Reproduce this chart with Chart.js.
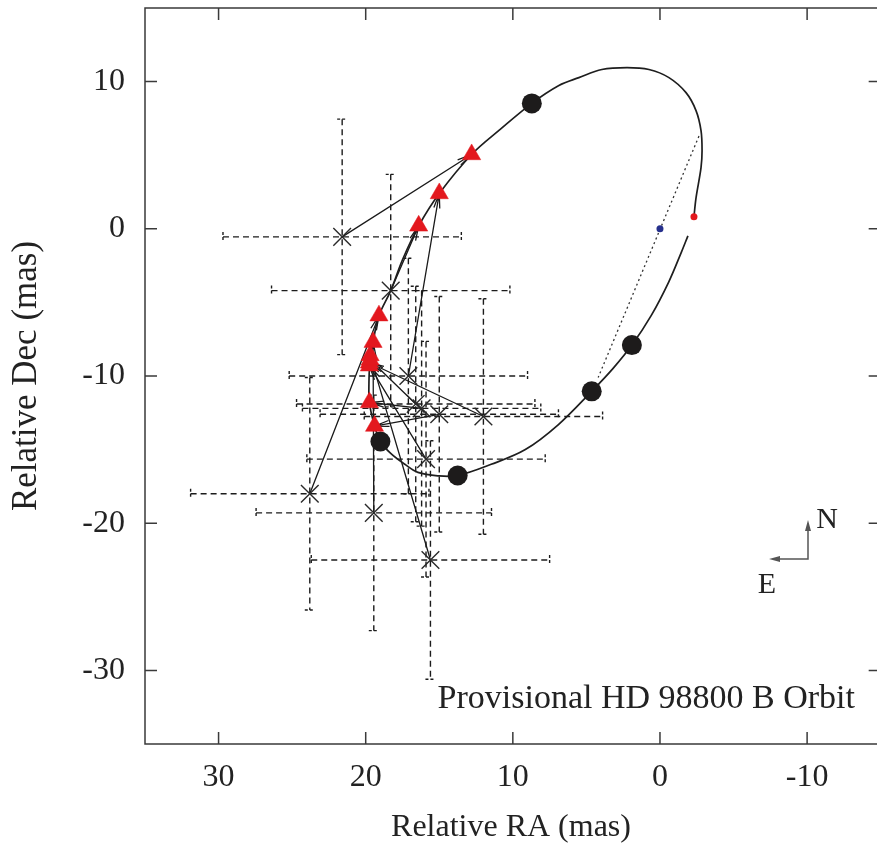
<!DOCTYPE html>
<html>
<head>
<meta charset="utf-8">
<script src="https://cdn.jsdelivr.net/npm/chart.js@4.4.1/dist/chart.umd.min.js"></script>
<style>
  html, body { margin: 0; padding: 0; background: #ffffff; }
  #wrap { width: 877px; height: 847px; }
</style>
</head>
<body>
<div id="wrap"><canvas id="orbit" width="877" height="847"></canvas></div>
<script>
// Measured relative positions of HD 98800 B (mas) with their ± uncertainties
const measRA     = [21.6, 18.3, 17.1, 23.8, 19.45, 15.6, 12.0, 15.9, 16.2, 15.0, 16.6];
const measDec    = [-0.55, -4.2, -10.0, -18.0, -19.3, -22.5, -12.75, -15.65, -12.2, -12.6, -11.9];
const measRAErr  = [8.1, 8.1, 8.1, 8.1, 8.0, 8.1, 8.1, 8.1, 8.1, 8.1, 8.1];
const measDecErr = [8.0, 7.9, 8.0, 7.9, 8.0, 8.1, 8.0, 8.0, 8.0, 8.0, 8.0];

// Orbit-model positions at the same epochs (arrow targets)
const modelRA  = [12.8, 16.4, 15.0, 19.1, 19.5, 19.7, 19.75, 19.75, 19.75, 19.4, 19.7];
const modelDec = [5.05, 0.2, 2.4, -5.9, -7.7, -8.6, -9.1, -9.3, -11.8, -13.4, -8.9];

// Marked orbital positions (filled circles)
const dotRA  = [8.71, 1.91, 4.64, 13.75, 19.0];
const dotDec = [8.52, -7.9, -11.04, -16.76, -14.45];

// Provisional orbit track
const orbitRA  = [-2.31, -2.45, -2.79, -2.86, -2.79, -2.45, -1.77, -0.61, 0.75, 2.24, 3.95, 5.51, 6.87,
                  8.71, 10.8, 12.8, 15.0, 16.4, 17.5, 18.3, 19.1, 19.5, 19.72, 19.78, 19.75, 19.4, 19.0,
                  18.3, 17.34, 16.45, 15.1, 13.75, 11.47, 9.15, 6.9, 4.64, 3.2, 1.91, 0.6, -0.6, -1.45, -1.9];
const orbitDec = [0.82, 2.1, 4.15, 5.3, 6.67, 8.03, 9.25, 10.27, 10.82, 10.95, 10.82, 10.27, 9.73,
                  8.52, 6.8, 5.05, 2.4, 0.2, -2.1, -4.2, -5.9, -7.7, -9.2, -10.5, -11.8, -13.4, -14.45,
                  -15.26, -16.0, -16.55, -16.78, -16.76, -16.0, -15.0, -13.3, -11.04, -9.5, -7.9, -5.9, -3.6, -1.6, -0.48];

// Line of nodes, primary (origin) and periastron marker
const nodesRA  = [-2.65, 4.2];
const nodesDec = [6.3, -10.1];
const primaryRA = [0], primaryDec = [0];
const periRA = [-2.31], periDec = [0.82];

// Axis ticks
const xTicks = [30, 20, 10, 0, -10];
const yTicks = [10, 0, -10, -20, -30];

const SERIF = '"Liberation Serif", "Times New Roman", serif';
const pts = (xs, ys) => xs.map((v, i) => ({ x: v, y: ys[i] }));
const noPad = s => { s.paddingTop = 0; s.paddingBottom = 0; s.paddingLeft = 0; s.paddingRight = 0; };

const decorations = {
  id: 'decorations',
  beforeDatasetsDraw(chart) {
    const { ctx } = chart;
    const sx = chart.scales.x, sy = chart.scales.y;
    ctx.save();
    ctx.beginPath();
    ctx.rect(chart.chartArea.left, chart.chartArea.top, chart.chartArea.width, chart.chartArea.height);
    ctx.clip();
    // dashed error bars
    ctx.strokeStyle = '#1c1c1c';
    ctx.lineWidth = 1.4;
    measRA.forEach((ra, i) => {
      const x = sx.getPixelForValue(ra), y = sy.getPixelForValue(measDec[i]);
      const xa = sx.getPixelForValue(ra + measRAErr[i]), xb = sx.getPixelForValue(ra - measRAErr[i]);
      const ya = sy.getPixelForValue(measDec[i] + measDecErr[i]), yb = sy.getPixelForValue(measDec[i] - measDecErr[i]);
      ctx.setLineDash([6, 4]);
      ctx.beginPath();
      ctx.moveTo(xa, y); ctx.lineTo(xb, y);
      ctx.moveTo(x, ya); ctx.lineTo(x, yb);
      ctx.stroke();
      ctx.setLineDash([3, 2]);
      ctx.beginPath();
      ctx.moveTo(xa, y - 5); ctx.lineTo(xa, y + 5);
      ctx.moveTo(xb, y - 5); ctx.lineTo(xb, y + 5);
      ctx.moveTo(x - 5, ya); ctx.lineTo(x + 5, ya);
      ctx.moveTo(x - 5, yb); ctx.lineTo(x + 5, yb);
      ctx.stroke();
    });
    // arrows from each measurement to its model position
    ctx.setLineDash([]);
    ctx.strokeStyle = '#1a1a1a';
    ctx.lineWidth = 1.3;
    measRA.forEach((ra, i) => {
      const x0 = sx.getPixelForValue(ra), y0 = sy.getPixelForValue(measDec[i]);
      const x1 = sx.getPixelForValue(modelRA[i]), y1 = sy.getPixelForValue(modelDec[i]);
      const a = Math.atan2(y1 - y0, x1 - x0), h = 15, w = 0.2;
      ctx.beginPath();
      ctx.moveTo(x0, y0); ctx.lineTo(x1, y1);
      ctx.moveTo(x1 - h * Math.cos(a - w), y1 - h * Math.sin(a - w));
      ctx.lineTo(x1, y1);
      ctx.lineTo(x1 - h * Math.cos(a + w), y1 - h * Math.sin(a + w));
      ctx.stroke();
    });
    ctx.restore();
  },
  afterDraw(chart) {
    const { ctx } = chart;
    const { left, right, top, bottom } = chart.chartArea;
    const sx = chart.scales.x, sy = chart.scales.y;
    const frameRight = sx.getPixelForValue(-15);
    ctx.save();
    // frame
    ctx.strokeStyle = '#3a3a3a';
    ctx.lineWidth = 1.5;
    ctx.beginPath();
    ctx.moveTo(frameRight, top); ctx.lineTo(left, top); ctx.lineTo(left, bottom); ctx.lineTo(frameRight, bottom);
    ctx.stroke();
    // inward tick marks on all four sides
    ctx.beginPath();
    xTicks.forEach(v => {
      const x = sx.getPixelForValue(v);
      ctx.moveTo(x, top); ctx.lineTo(x, top + 12);
      ctx.moveTo(x, bottom); ctx.lineTo(x, bottom - 12);
    });
    yTicks.forEach(v => {
      const y = sy.getPixelForValue(v);
      ctx.moveTo(left, y); ctx.lineTo(left + 12, y);
      ctx.moveTo(frameRight, y); ctx.lineTo(frameRight - 12, y);
    });
    ctx.stroke();
    // compass
    const cx = right - 69, cy = bottom - 185;
    ctx.strokeStyle = '#555'; ctx.fillStyle = '#555'; ctx.lineWidth = 1.5;
    ctx.beginPath();
    ctx.moveTo(cx, cy - 30); ctx.lineTo(cx, cy); ctx.lineTo(cx - 30, cy);
    ctx.stroke();
    ctx.beginPath();
    ctx.moveTo(cx, cy - 39); ctx.lineTo(cx - 3, cy - 28); ctx.lineTo(cx + 3, cy - 28); ctx.closePath();
    ctx.moveTo(cx - 39, cy); ctx.lineTo(cx - 28, cy - 3); ctx.lineTo(cx - 28, cy + 3); ctx.closePath();
    ctx.fill();
    ctx.fillStyle = '#222';
    ctx.font = '30px ' + SERIF;
    ctx.textAlign = 'center'; ctx.textBaseline = 'alphabetic';
    ctx.fillText('N', cx + 19, cy - 31);
    ctx.fillText('E', cx - 41, cy + 34);
    // plot caption
    ctx.font = '34px ' + SERIF;
    ctx.textAlign = 'right';
    ctx.fillText('Provisional HD 98800 B Orbit', right - 22, bottom - 36);
    ctx.restore();
  }
};

new Chart(document.getElementById('orbit'), {
  type: 'scatter',
  data: {
    datasets: [
      { label: 'Model positions', data: pts(modelRA, modelDec), order: 0,
        pointStyle: 'triangle', pointRadius: 10.5, pointBackgroundColor: '#e3181e',
        pointBorderColor: '#e3181e', pointBorderWidth: 0.5 },
      { label: 'Primary', data: pts(primaryRA, primaryDec), order: 0,
        pointRadius: 3.5, pointBackgroundColor: '#26308c', pointBorderColor: '#26308c', pointBorderWidth: 0 },
      { label: 'Periastron', data: pts(periRA, periDec), order: 0,
        pointRadius: 3.5, pointBackgroundColor: '#e3181e', pointBorderColor: '#e3181e', pointBorderWidth: 0 },
      { label: 'Orbit markers', data: pts(dotRA, dotDec), order: 1,
        pointRadius: 10, pointBackgroundColor: '#1d1b1b', pointBorderColor: '#1d1b1b', pointBorderWidth: 0 },
      { label: 'Measurements', data: pts(measRA, measDec), order: 2,
        pointStyle: 'crossRot', pointRadius: 12.5, pointBorderColor: '#2a2a2a', pointBorderWidth: 1.4,
        pointBackgroundColor: 'rgba(0,0,0,0)' },
      { label: 'Orbit', data: pts(orbitRA, orbitDec), order: 3, showLine: true,
        borderColor: '#1e1e1e', borderWidth: 1.7, tension: 0.35, pointRadius: 0, fill: false },
      { label: 'Line of nodes', data: pts(nodesRA, nodesDec), order: 4, showLine: true,
        borderColor: '#333', borderWidth: 1.3, borderDash: [2, 3], pointRadius: 0, fill: false }
    ]
  },
  options: {
    responsive: false,
    animation: false,
    devicePixelRatio: 1,
    layout: { autoPadding: false, padding: { top: 8, right: 0, bottom: 0, left: 0 } },
    plugins: { legend: { display: false }, tooltip: { enabled: false } },
    scales: {
      x: {
        type: 'linear', reverse: true, min: -14.75, max: 35,
        afterBuildTicks: s => { s.ticks = xTicks.map(v => ({ value: v })); },
        afterFit: s => { s.height = 103; noPad(s); },
        grid: { display: false, drawTicks: false },
        border: { display: false },
        ticks: { font: { family: SERIF, size: 32 }, color: '#222', padding: 14, maxRotation: 0, autoSkip: false },
        title: { display: true, text: 'Relative RA (mas)', font: { family: SERIF, size: 32 }, color: '#222',
                 padding: { top: 0, bottom: 0 } }
      },
      y: {
        type: 'linear', min: -35, max: 15,
        afterBuildTicks: s => { s.ticks = yTicks.map(v => ({ value: v })); },
        afterFit: s => { s.width = 145; noPad(s); },
        grid: { display: false, drawTicks: false },
        border: { display: false },
        ticks: { font: { family: SERIF, size: 32 }, color: '#222', padding: 20, autoSkip: false },
        title: { display: true, text: 'Relative Dec (mas)', font: { family: SERIF, size: 35 }, color: '#222',
                 padding: { top: 6, bottom: 0 } }
      }
    }
  },
  plugins: [decorations]
});
</script>
</body>
</html>
